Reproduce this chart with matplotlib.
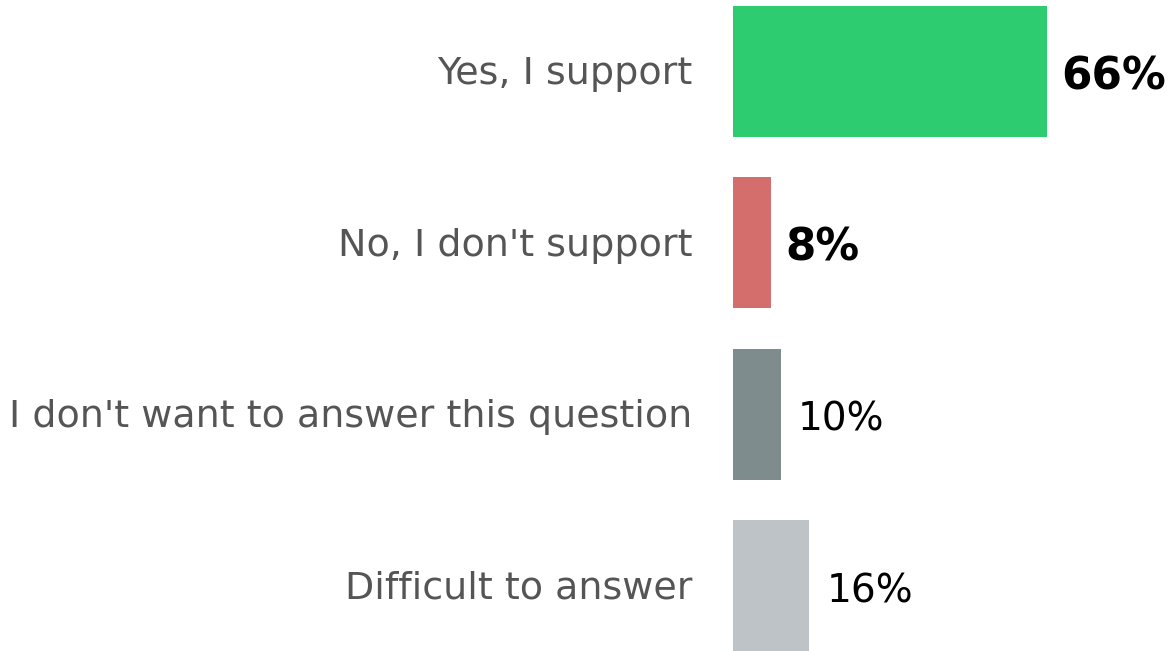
import matplotlib
matplotlib.use("Agg")
import matplotlib.pyplot as plt

categories = ["Yes, I support", "No, I don't support",
              "I don't want to answer this question", "Difficult to answer"]
values = [66, 8, 10, 16]
colors = ["#2ecc71", "#d46e6d", "#7f8c8d", "#bdc3c7"]
bold = [True, True, False, False]

W, H = 1172, 651
fig = plt.figure(figsize=(W / 100, H / 100), dpi=100)
# axes starts where bars start
ax = fig.add_axes([733 / W, 0, (W - 733) / W, 1])
ax.set_xlim(0, (W - 733) / 4.757)
ax.set_ylim(3.382, -0.417)
ax.axis("off")

ypos = list(range(len(categories)))
ax.barh(ypos, values, height=0.765, color=colors)

for y, cat, v, b in zip(ypos, categories, values, bold):
    ax.annotate(cat, xy=(0, y), xytext=(-29.5, -2), textcoords="offset points",
                ha="right", va="center", fontsize=27.4, color="#555555")
    if b:
        ax.annotate(f"{v}%", xy=(v, y), xytext=(10, -4), textcoords="offset points",
                    ha="left", va="center", fontsize=31.5, color="black",
                    fontweight="bold", annotation_clip=False)
    else:
        ax.annotate(f"{v}%", xy=(v, y), xytext=(12.5, -4), textcoords="offset points",
                    ha="left", va="center", fontsize=28, color="black",
                    annotation_clip=False)

fig.savefig("out.png", dpi=100)
